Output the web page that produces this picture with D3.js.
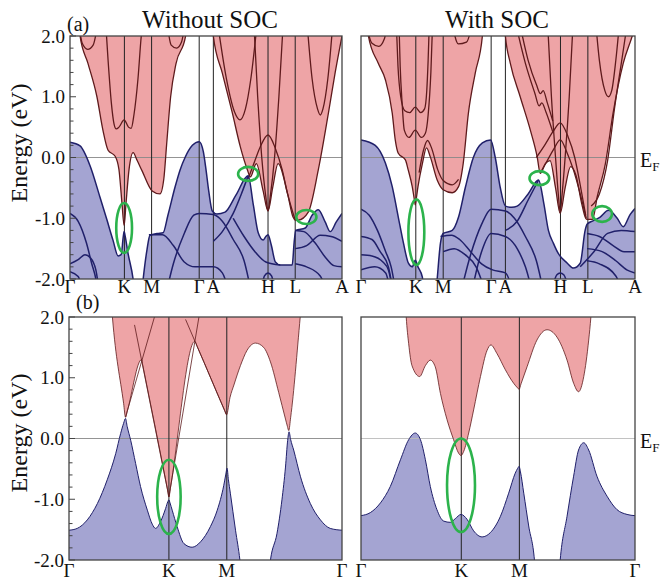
<!DOCTYPE html>
<meta charset="utf-8">
<html>
<head>
<title>Band structure with and without SOC</title>
<style>
  body { margin: 0; background: #fff; }
</style>
</head>
<body>
<svg id="bands" width="660" height="582"></svg>
<script src="https://cdn.jsdelivr.net/npm/d3@7"></script>
<script>
// k-path ticks (fraction of path length) and labels
const kPathA = [0, 0.2, 0.3, 0.475, 0.527, 0.728, 0.828, 1];
const kLabelsA = ["Γ", "K", "M", "Γ", "A", "H", "L", "A"];
const kPathB = [0, 0.366, 0.578, 1];
const kLabelsB = ["Γ", "K", "M", "Γ"];
const energyTicks = [-2, -1, 0, 1, 2];
const energyTickLabels = ["-2.0", "-1.0", "0.0", "1.0", "2.0"];

// ---- (a) without SOC : [k, E] ----
// top of valence manifold (blue fill edge)
const vbNoSocA = [[0,0.25],[0.037,0.19],[0.074,-0.14],[0.11,-0.65],[0.136,-1.03],[0.158,-1.36],[0.177,-1.62],[0.188,-1.6],[0.196,-1.3],[0.199,-1.22],[0.203,-1.3],[0.213,-1.57],[0.232,-2.0],[0.24,-2.3],[0.262,-2.3],[0.269,-2.0],[0.283,-1.52],[0.294,-1.28],[0.32,-1.25],[0.342,-1.24],[0.36,-0.95],[0.386,-0.49],[0.405,-0.2],[0.423,0.0],[0.45,0.2],[0.475,0.26],[0.49,0.1],[0.5,-0.2],[0.51,-0.55],[0.523,-0.88],[0.54,-0.93],[0.57,-0.9],[0.61,-0.62],[0.655,-0.3],[0.674,-0.78],[0.692,-1.24],[0.71,-1.36],[0.72,-1.3],[0.728,-1.27],[0.74,-1.44],[0.755,-1.72],[0.773,-1.77],[0.817,-1.77],[0.824,-1.4],[0.83,-1.2],[0.865,-1.16],[0.89,-0.95],[0.913,-0.86],[0.938,-1.06],[0.957,-1.22],[0.979,-1.06],[1,-0.92]];
// bottom of conduction manifold (red fill edge)
const cbNoSocA = [[0,2.4],[0.03,2.4],[0.037,2.0],[0.066,1.55],[0.099,1.0],[0.121,0.45],[0.14,0.12],[0.166,0.02],[0.18,-0.2],[0.191,-0.75],[0.199,-1.12],[0.206,-0.75],[0.217,-0.2],[0.232,0.08],[0.247,-0.05],[0.265,-0.22],[0.302,-0.55],[0.331,-0.6],[0.345,-0.35],[0.355,0.2],[0.37,1.0],[0.39,1.55],[0.425,2.0],[0.432,2.4],[0.52,2.4],[0.527,2.0],[0.56,1.39],[0.597,0.73],[0.626,0.18],[0.652,-0.2],[0.663,-0.32],[0.685,-0.1],[0.71,-0.55],[0.728,-0.88],[0.745,-0.5],[0.765,-0.1],[0.8,-0.6],[0.82,-0.98],[0.828,-1.03],[0.84,-1.03],[0.876,-0.9],[0.913,-0.2],[0.95,0.73],[0.975,1.4],[1,2.0]];
const redLinesNoSocA = [
  [[0.03,2.3],[0.045,1.88],[0.065,1.78],[0.085,1.85],[0.105,2.3]],
  [[0.13,2.3],[0.14,1.6],[0.152,0.9],[0.162,0.55],[0.17,0.47],[0.18,0.5],[0.199,0.62],[0.215,0.5],[0.225,0.48],[0.235,0.7],[0.25,1.3],[0.262,2.0],[0.27,2.3]],
  [[0.355,2.3],[0.372,1.85],[0.392,1.8],[0.41,1.9],[0.425,2.3]],
  [[0.655,-0.35],[0.68,-0.05],[0.7,0.18],[0.728,0.37],[0.755,0.15],[0.78,-0.2],[0.8,-0.6],[0.828,-1.03]],
  [[0.675,2.3],[0.69,1.0],[0.705,0.0],[0.72,-0.65],[0.728,-0.88],[0.736,-0.65],[0.752,0.0],[0.768,1.0],[0.785,2.3]],
  [[0.54,2.3],[0.575,1.3],[0.605,0.75],[0.625,0.62],[0.645,0.8],[0.665,1.3],[0.69,2.3]],
  [[0.87,2.3],[0.89,1.3],[0.91,0.8],[0.92,0.7],[0.93,0.8],[0.948,1.3],[0.968,2.3]]
];
const blueLinesNoSocA = [
  [[0,-0.92],[0.03,-1.05],[0.06,-1.4],[0.08,-1.75],[0.095,-2.0],[0.105,-2.3]],
  [[0,-1.75],[0.03,-1.68],[0.055,-1.6],[0.075,-1.65],[0.095,-1.85],[0.11,-2.3]],
  [[0,-1.88],[0.03,-1.96],[0.05,-2.3]],
  [[0.29,-1.27],[0.34,-1.27],[0.38,-1.45],[0.42,-1.72],[0.46,-1.8],[0.527,-1.8],[0.56,-1.9],[0.59,-2.3]],
  [[0.35,-2.3],[0.38,-1.75],[0.42,-1.25],[0.455,-0.95],[0.475,-0.92],[0.527,-0.94],[0.56,-1.05],[0.6,-1.35],[0.64,-1.7],[0.67,-2.3]],
  [[0.527,-1.38],[0.56,-1.22],[0.6,-0.92],[0.63,-0.6],[0.655,-0.3]],
  [[0.6,-1.0],[0.64,-1.3],[0.68,-1.55],[0.72,-1.72],[0.773,-1.77]],
  [[0.7,-2.3],[0.715,-1.95],[0.728,-1.9],[0.741,-1.95],[0.756,-2.3]],
  [[0.828,-1.2],[0.86,-1.22],[0.9,-1.4],[0.94,-1.65],[0.97,-1.78],[1,-1.8]],
  [[0.828,-1.5],[0.87,-1.45],[0.92,-1.28],[0.96,-1.3],[1,-1.38]],
  [[0.828,-1.75],[0.87,-1.8],[0.92,-1.95],[0.95,-2.3]]
];
// highlighted crossings: [kMin, kMax, Emin, Emax]
const ringsNoSocA = [[0.17,0.228,-1.57,-0.75],[0.618,0.692,-0.385,-0.155],[0.832,0.906,-1.095,-0.865]];

// ---- (a) with SOC ----
const vbSocA = [[0,0.29],[0.052,0.2],[0.089,-0.09],[0.114,-0.48],[0.136,-0.98],[0.155,-1.41],[0.173,-1.74],[0.187,-1.8],[0.198,-1.69],[0.208,-1.8],[0.224,-1.97],[0.23,-2.3],[0.272,-2.3],[0.278,-2.0],[0.29,-1.41],[0.3,-1.25],[0.333,-1.2],[0.356,-0.98],[0.381,-0.49],[0.41,0.0],[0.443,0.24],[0.473,0.29],[0.49,0.0],[0.508,-0.49],[0.527,-0.8],[0.55,-0.82],[0.57,-0.8],[0.61,-0.6],[0.648,-0.37],[0.667,-0.75],[0.684,-1.2],[0.702,-1.41],[0.72,-1.58],[0.753,-1.74],[0.775,-1.82],[0.8,-1.74],[0.818,-1.2],[0.825,-1.1],[0.848,-1.04],[0.873,-0.98],[0.903,-0.87],[0.935,-1.0],[0.957,-1.14],[0.982,-0.94],[1,-0.84]];
const cbSocA = [[0,2.4],[0.02,2.4],[0.027,2.0],[0.063,1.55],[0.089,1.28],[0.114,0.73],[0.125,0.29],[0.136,0.07],[0.162,-0.04],[0.172,-0.2],[0.187,-0.48],[0.195,-0.7],[0.198,-0.78],[0.201,-0.7],[0.208,-0.48],[0.224,-0.1],[0.239,0.16],[0.253,0.01],[0.278,-0.37],[0.3,-0.53],[0.333,-0.58],[0.356,-0.48],[0.373,-0.1],[0.392,0.73],[0.417,1.39],[0.443,2.0],[0.45,2.4],[0.52,2.4],[0.527,2.0],[0.545,1.55],[0.581,1.0],[0.618,0.45],[0.643,0.01],[0.654,-0.26],[0.673,-0.1],[0.69,-0.05],[0.71,-0.5],[0.727,-0.92],[0.745,-0.5],[0.765,-0.15],[0.785,-0.3],[0.805,-0.75],[0.82,-1.0],[0.825,-1.02],[0.845,-1.02],[0.862,-0.65],[0.892,-0.1],[0.92,0.73],[0.957,1.55],[0.99,2.0],[1,2.15]];
const redLinesSocA = [
  [[0.015,2.3],[0.04,1.88],[0.065,1.83],[0.085,1.95],[0.1,2.3]],
  [[0.128,2.3],[0.135,1.5],[0.145,1.0],[0.16,0.77],[0.178,0.74],[0.198,0.83],[0.218,0.74],[0.232,0.8],[0.24,1.1],[0.245,1.6],[0.25,2.3]],
  [[0.138,2.3],[0.143,1.5],[0.15,0.9],[0.158,0.45],[0.175,0.33],[0.198,0.45],[0.22,0.33],[0.235,0.4],[0.245,0.7],[0.255,1.4],[0.262,2.3]],
  [[0.212,-0.25],[0.228,0.12],[0.243,0.28],[0.258,0.15],[0.28,-0.2],[0.3,-0.38],[0.333,-0.45],[0.356,-0.36]],
  [[0.33,2.3],[0.355,1.87],[0.385,1.9],[0.41,2.3]],
  [[0.64,0.0],[0.67,0.2],[0.7,0.42],[0.727,0.57],[0.755,0.35],[0.78,0.0],[0.8,-0.45],[0.82,-0.95]],
  [[0.655,-0.25],[0.68,-0.05],[0.705,0.15],[0.727,0.29],[0.752,0.08],[0.775,-0.2],[0.8,-0.6],[0.822,-1.0]],
  [[0.68,2.3],[0.695,1.0],[0.71,0.0],[0.72,-0.6],[0.727,-0.9],[0.734,-0.6],[0.745,0.0],[0.76,1.0],[0.775,2.3]],
  [[0.56,2.3],[0.6,1.55],[0.635,1.05],[0.65,0.85],[0.66,0.9],[0.675,0.75],[0.7,0.42]],
  [[0.575,2.3],[0.61,1.6],[0.64,1.2],[0.655,1.05],[0.665,1.1],[0.68,0.9],[0.7,0.6]],
  [[0.855,2.3],[0.87,1.6],[0.89,1.1],[0.903,1.0],[0.915,1.1],[0.93,1.6],[0.945,2.3]],
  [[0.84,-0.8],[0.87,-0.6],[0.9,-0.05],[0.925,0.8],[0.955,1.7],[0.975,2.3]]
];
const blueLinesSocA = [
  [[0,-0.85],[0.03,-0.95],[0.06,-1.2],[0.09,-1.55],[0.11,-1.8],[0.13,-2.3]],
  [[0,-1.3],[0.04,-1.35],[0.07,-1.55],[0.1,-1.8],[0.12,-2.3]],
  [[0,-1.6],[0.04,-1.62],[0.08,-1.72],[0.1,-1.85],[0.12,-2.3]],
  [[0,-1.85],[0.05,-1.8],[0.09,-1.9],[0.11,-2.3]],
  [[0.29,-1.3],[0.33,-1.28],[0.36,-1.35],[0.4,-1.55],[0.44,-1.75],[0.48,-1.85],[0.527,-1.9],[0.56,-2.3]],
  [[0.3,-1.55],[0.34,-1.5],[0.38,-1.6],[0.42,-1.8],[0.46,-2.3]],
  [[0.36,-2.3],[0.4,-1.6],[0.44,-1.1],[0.475,-0.85],[0.527,-0.88],[0.56,-1.0],[0.6,-1.3],[0.64,-1.7],[0.67,-2.3]],
  [[0.4,-2.3],[0.44,-1.55],[0.475,-1.25],[0.527,-1.3],[0.57,-1.5],[0.6,-1.8],[0.63,-2.3]],
  [[0.527,-1.2],[0.57,-1.05],[0.61,-0.7],[0.648,-0.37]],
  [[0.69,-2.3],[0.715,-1.93],[0.727,-1.9],[0.74,-1.93],[0.765,-2.3]],
  [[0.825,-1.25],[0.87,-1.3],[0.92,-1.45],[0.96,-1.55],[1,-1.55]],
  [[0.825,-1.5],[0.88,-1.55],[0.93,-1.7],[0.97,-1.85],[1,-1.9]],
  [[0.825,-1.7],[0.87,-1.75],[0.93,-1.95],[0.96,-2.3]],
  [[0.8,-1.8],[0.85,-1.55],[0.9,-1.25],[0.95,-1.2],[1,-1.22]]
];
const ringsSocA = [[0.173,0.231,-1.77,-0.69],[0.615,0.687,-0.455,-0.225],[0.844,0.916,-1.06,-0.8]];

// ---- (b) without SOC ----
const vbNoSocB = [[0,-1.51],[0.03,-1.48],[0.067,-1.34],[0.104,-1.07],[0.14,-0.68],[0.171,-0.25],[0.189,0.08],[0.2,0.25],[0.207,0.33],[0.213,0.2],[0.226,-0.03],[0.244,-0.41],[0.262,-0.79],[0.287,-1.18],[0.305,-1.41],[0.317,-1.48],[0.335,-1.37],[0.354,-1.15],[0.362,-1.04],[0.366,-1.01],[0.37,-1.06],[0.378,-1.18],[0.396,-1.45],[0.421,-1.73],[0.451,-1.79],[0.482,-1.7],[0.518,-1.45],[0.543,-1.18],[0.567,-0.77],[0.574,-0.6],[0.579,-0.49],[0.584,-0.68],[0.591,-0.9],[0.61,-1.51],[0.626,-2.0],[0.633,-2.3],[0.73,-2.3],[0.738,-2.0],[0.762,-1.56],[0.78,-1.01],[0.793,-0.47],[0.801,-0.03],[0.806,0.11],[0.812,-0.02],[0.823,-0.19],[0.848,-0.63],[0.884,-1.07],[0.921,-1.34],[0.957,-1.48],[1,-1.51]];
const cbNoSocB = [[0,2.4],[0.152,2.4],[0.159,2.0],[0.2,0.58],[0.207,0.35],[0.214,0.46],[0.266,1.3],[0.27,1.21],[0.36,-0.82],[0.366,-0.96],[0.372,-0.8],[0.461,1.6],[0.47,1.51],[0.57,0.46],[0.577,0.39],[0.59,0.68],[0.604,0.88],[0.628,1.2],[0.652,1.45],[0.683,1.57],[0.713,1.5],[0.738,1.26],[0.768,0.76],[0.793,0.32],[0.8,0.2],[0.805,0.13],[0.812,0.35],[0.847,2.0],[0.855,2.4],[1,2.4]];
const redLinesNoSocB = [
  [[0.207,0.35],[0.313,2.0]],
  [[0.24,1.87],[0.366,-0.96]],
  [[0.366,-0.96],[0.476,2.0]],
  [[0.427,1.96],[0.577,0.39]]
];
const ringsNoSocB = [[0.323,0.409,-1.57,-0.35]];

// ---- (b) with SOC ----
const vbSocB = [[0,-1.27],[0.034,-1.22],[0.071,-1.06],[0.107,-0.79],[0.144,-0.35],[0.174,-0.02],[0.198,0.09],[0.217,-0.02],[0.235,-0.35],[0.253,-0.79],[0.277,-1.17],[0.302,-1.36],[0.326,-1.38],[0.344,-1.32],[0.365,-1.25],[0.387,-1.33],[0.411,-1.52],[0.442,-1.62],[0.472,-1.55],[0.509,-1.28],[0.539,-0.9],[0.563,-0.57],[0.572,-0.49],[0.577,-0.46],[0.582,-0.55],[0.594,-0.9],[0.612,-1.44],[0.633,-2.0],[0.64,-2.4],[0.72,-2.4],[0.727,-2.0],[0.752,-1.28],[0.776,-0.62],[0.794,-0.19],[0.813,-0.07],[0.831,-0.19],[0.861,-0.62],[0.898,-0.95],[0.934,-1.17],[0.971,-1.25],[1,-1.27]];
const cbSocB = [[0,2.4],[0.16,2.4],[0.165,2.0],[0.174,1.56],[0.186,1.2],[0.214,1.02],[0.235,1.2],[0.253,1.29],[0.271,1.18],[0.29,0.74],[0.314,0.31],[0.338,-0.02],[0.356,-0.24],[0.365,-0.28],[0.375,-0.21],[0.393,0.09],[0.411,0.47],[0.436,1.02],[0.46,1.45],[0.474,1.54],[0.496,1.4],[0.527,1.13],[0.557,0.91],[0.572,0.83],[0.577,0.81],[0.584,0.9],[0.606,1.18],[0.642,1.62],[0.679,1.79],[0.715,1.67],[0.752,1.29],[0.776,0.91],[0.794,0.77],[0.813,1.02],[0.831,1.62],[0.839,2.0],[0.845,2.4],[1,2.4]];
const ringsSocB = [[0.314,0.416,-1.54,0.0]];

const redFill = "#eea4a6", blueFill = "#a4a4d2";
const redLine = "#5e1a1c", blueLine = "#20206a";
const serif = "'Liberation Serif'";

const svg = d3.select("#bands");
const defs = svg.append("defs");

// all labels go through here so the serif face is forced
function label(sel) {
  return sel.style("font-family", serif, "important").attr("fill", "#111");
}

const panels = [
  {box: [70, 36, 342, 279], ticks: kPathA, labels: kLabelsA, vb: vbNoSocA, cb: cbNoSocA,
   red: redLinesNoSocA, blue: blueLinesNoSocA, rings: ringsNoSocA, yAxis: true, ef: false, lw: 1.3, labelY: 293},
  {box: [361, 36, 635, 279], ticks: kPathA, labels: kLabelsA, vb: vbSocA, cb: cbSocA,
   red: redLinesSocA, blue: blueLinesSocA, rings: ringsSocA, yAxis: false, ef: true, lw: 1.3, labelY: 293},
  {box: [69, 317, 342, 560], ticks: kPathB, labels: kLabelsB, vb: vbNoSocB, cb: cbNoSocB,
   red: redLinesNoSocB, blue: [], rings: ringsNoSocB, yAxis: true, ef: false, lw: 0.8, labelY: 577},
  {box: [361, 317, 635, 560], ticks: kPathB, labels: kLabelsB, vb: vbSocB, cb: cbSocB,
   red: [], blue: [], rings: ringsSocB, yAxis: false, ef: true, lw: 0.8, labelY: 577}
];

panels.forEach(drawPanel);

function drawPanel(p, i) {
  var [x0, y0, x1, y1] = p.box;
  var x = d3.scaleLinear().domain([0, 1]).range([x0, x1]);
  var y = d3.scaleLinear().domain([-2, 2]).range([y1, y0]);

  defs.append("clipPath").attr("id", "clip" + i)
    .append("rect").attr("x", x0).attr("y", y0).attr("width", x1 - x0).attr("height", y1 - y0);

  var g = svg.append("g").attr("clip-path", "url(#clip" + i + ")");
  var curve = d3.curveMonotoneX;
  var areaTop = d3.area().x(d => x(d[0])).y0(y(2.6)).y1(d => y(d[1])).curve(curve);
  var areaBot = d3.area().x(d => x(d[0])).y0(y(-2.6)).y1(d => y(d[1])).curve(curve);
  var line = d3.line().x(d => x(d[0])).y(d => y(d[1])).curve(curve);

  g.append("path").attr("d", areaTop(p.cb)).attr("fill", redFill);
  g.append("path").attr("d", areaBot(p.vb)).attr("fill", blueFill);

  // Fermi level
  g.append("line").attr("x1", x0).attr("x2", x1).attr("y1", y(0)).attr("y2", y(0))
    .attr("stroke", i === 3 ? "#bbb" : "#888").attr("stroke-width", 0.9);

  // high-symmetry lines
  g.selectAll(".kline").data(p.ticks.slice(1, -1)).join("line")
    .attr("x1", d => x(d)).attr("x2", d => x(d)).attr("y1", y0).attr("y2", y1)
    .attr("stroke", "#222").attr("stroke-width", 1);

  g.selectAll(".rband").data(p.red).join("path")
    .attr("d", line).attr("fill", "none").attr("stroke", redLine).attr("stroke-width", p.lw);
  g.selectAll(".bband").data(p.blue).join("path")
    .attr("d", line).attr("fill", "none").attr("stroke", blueLine).attr("stroke-width", p.lw + 0.2);

  g.append("path").attr("d", line(p.cb)).attr("fill", "none").attr("stroke", redLine).attr("stroke-width", p.lw);
  g.append("path").attr("d", line(p.vb)).attr("fill", "none").attr("stroke", blueLine).attr("stroke-width", p.lw + 0.2);

  // frame
  svg.append("rect").attr("x", x0).attr("y", y0).attr("width", x1 - x0).attr("height", y1 - y0)
    .attr("fill", "none").attr("stroke", "#444").attr("stroke-width", 1.3);

  // highlighted crossings
  svg.selectAll(null).data(p.rings).join("ellipse")
    .attr("cx", d => (x(d[0]) + x(d[1])) / 2)
    .attr("cy", d => (y(d[2]) + y(d[3])) / 2)
    .attr("rx", d => (x(d[1]) - x(d[0])) / 2)
    .attr("ry", d => (y(d[2]) - y(d[3])) / 2)
    .attr("fill", "none").attr("stroke", "#2cb34c").attr("stroke-width", 2.6);

  // k labels
  label(svg.selectAll(null).data(p.ticks).join("text")
    .attr("x", d => x(d)).attr("y", p.labelY)
    .attr("text-anchor", "middle").attr("font-size", 19)
    .text((d, j) => p.labels[j]));

  if (p.yAxis) {
    svg.selectAll(null).data(y.ticks(20)).join("line")
      .attr("x1", x0).attr("x2", d => x0 + (Math.abs(d - Math.round(d)) < 1e-6 ? 6 : 3.5))
      .attr("y1", d => y(d)).attr("y2", d => y(d))
      .attr("stroke", "#444").attr("stroke-width", 1);
    label(svg.selectAll(null).data(energyTicks).join("text")
      .attr("x", x0 - 5).attr("y", d => y(d)).attr("dy", "0.35em")
      .attr("text-anchor", "end").attr("font-size", 19)
      .text((d, j) => energyTickLabels[j]));
    label(svg.append("text")
      .attr("transform", "translate(27," + (i === 0 ? 143 : 433) + ") rotate(-90)")
      .attr("text-anchor", "middle").attr("font-size", 24)
      .text("Energy (eV)"));
  }

  if (p.ef) {
    var t = label(svg.append("text").attr("x", x1 + 5).attr("y", y(0) + 9).attr("font-size", 20));
    t.append("tspan").text("E");
    t.append("tspan").attr("font-size", 13).attr("dy", 4).text("F");
  }
}

label(svg.append("text").attr("x", 67).attr("y", 31).attr("font-size", 20).text("(a)"));
label(svg.append("text").attr("x", 76).attr("y", 309).attr("font-size", 20).text("(b)"));
label(svg.append("text").attr("x", 210).attr("y", 28).attr("text-anchor", "middle").attr("font-size", 25).text("Without SOC"));
label(svg.append("text").attr("x", 497).attr("y", 28).attr("text-anchor", "middle").attr("font-size", 25).text("With SOC"));
</script>
</body>
</html>
